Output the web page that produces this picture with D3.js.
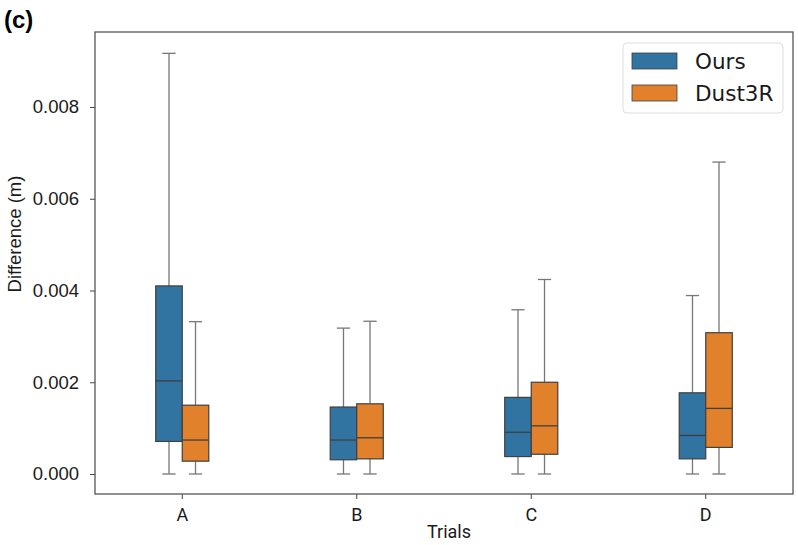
<!DOCTYPE html>
<html>
<head>
<meta charset="utf-8">
<script src="https://cdn.jsdelivr.net/npm/d3@7"></script>
<style>
  body { margin: 0; background: #fff; }
  svg { display: block; }
</style>
</head>
<body>
<svg></svg>
<script>
// trials on the x axis and the two methods (hue)
const trials = ['A', 'B', 'C', 'D']
const methods = ['Ours', 'Dust3R']
const colors = ['#3274a1', '#e1812c']

// box stats, one value per trial
const oursLow = [0.0000, 0.0000, 0.0000, 0.0000]
const oursQ1 = [0.00071, 0.00031, 0.00038, 0.00033]
const oursMed = [0.00203, 0.00074, 0.00091, 0.00084]
const oursQ3 = [0.00410, 0.00146, 0.00167, 0.00177]
const oursHigh = [0.00917, 0.00318, 0.00358, 0.00389]

const dustLow = [0.0000, 0.0000, 0.0000, 0.0000]
const dustQ1 = [0.00028, 0.00033, 0.00043, 0.00058]
const dustMed = [0.00074, 0.00079, 0.00105, 0.00143]
const dustQ3 = [0.00150, 0.00153, 0.00200, 0.00308]
const dustHigh = [0.00332, 0.00333, 0.00424, 0.00680]

const yTicks = [0, 0.002, 0.004, 0.006, 0.008]

const w = 798
const h = 545
const padL = 95, padR = 793, padT = 32, padB = 494

let svg = d3.select('svg').attr('width', w).attr('height', h)

let boxes = []
trials.forEach((t, i) => {
  boxes.push({trial: t, method: 'Ours', low: oursLow[i], q1: oursQ1[i], med: oursMed[i], q3: oursQ3[i], high: oursHigh[i]})
  boxes.push({trial: t, method: 'Dust3R', low: dustLow[i], q1: dustQ1[i], med: dustMed[i], q3: dustQ3[i], high: dustHigh[i]})
})

let xScale = d3.scaleBand().domain(trials).range([padL, padR]).padding(0)
let hueScale = d3.scaleBand().domain(methods)
  .range([-xScale.bandwidth() * 0.152, xScale.bandwidth() * 0.152])
let colorScale = d3.scaleOrdinal().domain(methods).range(colors)

let yScale = d3.scaleLinear()
  .domain([-0.000436, 0.009635])
  .range([padB, padT])

let boxW = hueScale.bandwidth()
let cx = d => xScale(d.trial) + xScale.bandwidth() / 2 + hueScale(d.method) + boxW / 2

let g = svg.append('g').selectAll('g').data(boxes).enter().append('g')

// whiskers
g.append('line')
  .attr('x1', cx).attr('x2', cx)
  .attr('y1', d => yScale(d.q3)).attr('y2', d => yScale(d.high))
  .attr('stroke', '#777').attr('stroke-width', 1.3)
g.append('line')
  .attr('x1', cx).attr('x2', cx)
  .attr('y1', d => yScale(d.low)).attr('y2', d => yScale(d.q1))
  .attr('stroke', '#777').attr('stroke-width', 1.3)
// caps
g.append('line')
  .attr('x1', d => cx(d) - boxW / 4).attr('x2', d => cx(d) + boxW / 4)
  .attr('y1', d => yScale(d.high)).attr('y2', d => yScale(d.high))
  .attr('stroke', '#777').attr('stroke-width', 1.3)
g.append('line')
  .attr('x1', d => cx(d) - boxW / 4).attr('x2', d => cx(d) + boxW / 4)
  .attr('y1', d => yScale(d.low)).attr('y2', d => yScale(d.low))
  .attr('stroke', '#777').attr('stroke-width', 1.3)
// box
g.append('rect')
  .attr('x', d => cx(d) - boxW / 2)
  .attr('width', boxW)
  .attr('y', d => yScale(d.q3))
  .attr('height', d => yScale(d.q1) - yScale(d.q3))
  .attr('fill', d => colorScale(d.method))
  .attr('stroke', '#3f3f3f').attr('stroke-width', 1.2)
// median
g.append('line')
  .attr('x1', d => cx(d) - boxW / 2).attr('x2', d => cx(d) + boxW / 2)
  .attr('y1', d => yScale(d.med)).attr('y2', d => yScale(d.med))
  .attr('stroke', '#3f3f3f').attr('stroke-width', 1.3)

// axes
let xAxis = d3.axisBottom(xScale).tickSize(5).tickSizeOuter(0)
let yAxis = d3.axisLeft(yScale).tickValues(yTicks).tickFormat(d3.format('.3f')).tickSize(5).tickSizeOuter(0)

let xg = svg.append('g').attr('transform', 'translate(0,' + padB + ')').call(xAxis)
xg.select('.domain').remove()
xg.selectAll('line').attr('stroke', '#444')
xg.selectAll('text').attr('y', 26.5).attr('dy', null)
  .style('font-family', 'Roboto, "Liberation Sans", sans-serif').style('font-size', '18px').attr('fill', '#1a1a1a')

let yg = svg.append('g').attr('transform', 'translate(' + padL + ',0)').call(yAxis)
yg.select('.domain').remove()
yg.selectAll('line').attr('stroke', '#444')
yg.selectAll('text').attr('x', -16)
  .style('font-family', '"Liberation Sans", Arial, sans-serif').style('font-size', '18.5px').attr('fill', '#1a1a1a')

// frame
svg.append('rect')
  .attr('x', padL).attr('y', padT)
  .attr('width', padR - padL).attr('height', padB - padT)
  .attr('fill', 'none').attr('stroke', '#555').attr('stroke-width', 1.3)

// labels
svg.append('text')
  .attr('x', 449).attr('y', 538)
  .attr('text-anchor', 'middle')
  .style('font-family', 'Roboto, "Liberation Sans", sans-serif').style('font-size', '18px').attr('fill', '#1a1a1a')
  .text('Trials')

svg.append('text')
  .attr('transform', 'translate(20.5,234) rotate(-90)')
  .attr('text-anchor', 'middle')
  .style('font-family', '"Liberation Sans", Arial, sans-serif').style('font-size', '18.5px').attr('fill', '#1a1a1a')
  .text('Difference (m)')

svg.append('text')
  .attr('x', 4).attr('y', 28)
  .style('font-family', '"Liberation Sans", Arial, sans-serif').style('font-size', '24px').style('font-weight', 'bold')
  .text('(c)')

// legend
let legend = svg.append('g')
legend.append('rect')
  .attr('x', 623).attr('y', 43).attr('width', 160).attr('height', 70)
  .attr('rx', 4).attr('fill', '#fff').attr('stroke', '#ddd')
let items = legend.selectAll('g.item').data(methods).enter().append('g')
  .attr('transform', (d, i) => 'translate(632,' + (53 + i * 32) + ')')
items.append('rect')
  .attr('width', 45).attr('height', 16)
  .attr('fill', d => colorScale(d))
  .attr('stroke', '#3f3f3f').attr('stroke-width', 0.8)
items.append('text')
  .attr('x', 63).attr('y', 16)
  .style('font-family', '"DejaVu Sans", sans-serif').style('font-size', '21.5px').attr('fill', '#1a1a1a')
  .text(d => d)
</script>
</body>
</html>
